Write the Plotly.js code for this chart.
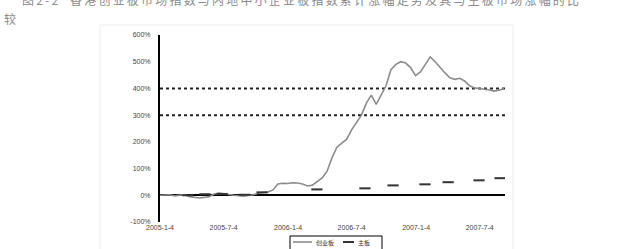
<!DOCTYPE html>
<html>
<head>
<meta charset="utf-8">
<script src="https://cdn.plot.ly/plotly-3.0.1.min.js"></script>
<style>
  html,body{margin:0;padding:0;background:#fff;}
  #wrap{position:relative;width:629px;height:249px;overflow:hidden;}
  #chart{position:absolute;left:0;top:0;width:629px;height:249px;}
  .cap{position:absolute;font-family:"Noto Sans CJK SC",sans-serif;color:#8a8a8a;font-size:12px;white-space:nowrap;line-height:12px;}
</style>
</head>
<body>
<div id="wrap">
  <div id="chart"></div>
  <div class="cap" style="left:22px;top:-6px;letter-spacing:2.2px;">图2-2&nbsp;&nbsp;香港创业板市场指数与内地中小企业板指数累计涨幅走势及其与主板市场涨幅的比</div>
  <div class="cap" style="left:4px;top:13px;">较</div>
</div>
<script>
// ---- data ----
const dates = [
  "2005-01-04","2005-01-18","2005-02-01","2005-02-15","2005-03-01","2005-03-15","2005-03-29","2005-04-12","2005-04-26","2005-05-10",
  "2005-05-24","2005-06-07","2005-06-21","2005-07-05","2005-07-19","2005-08-02","2005-08-16","2005-08-30","2005-09-13","2005-09-27",
  "2005-10-11","2005-10-25","2005-11-08","2005-11-22","2005-12-06","2005-12-20","2006-01-03","2006-01-17","2006-01-31","2006-02-14",
  "2006-02-28","2006-03-14","2006-03-28","2006-04-11","2006-04-25","2006-05-09","2006-05-23","2006-06-06","2006-06-20","2006-07-04",
  "2006-07-18","2006-08-01","2006-08-15","2006-08-29","2006-09-12","2006-09-26","2006-10-10","2006-10-24","2006-11-07","2006-11-21",
  "2006-12-05","2006-12-19","2007-01-02","2007-01-16","2007-01-30","2007-02-13","2007-02-27","2007-03-13","2007-03-27","2007-04-10",
  "2007-04-24","2007-05-08","2007-05-22","2007-06-05","2007-06-19","2007-07-03","2007-07-17","2007-07-31","2007-08-14","2007-08-28",
  "2007-09-11"
];
const seriesA = [
  0, 0, 2, -2, 0, 3, -5, -8, -10, -8,
  -5, 5, 8, 6, 2, 0, -2, -3, -1, 2,
  8, 10, 12, 20, 42, 45, 44, 47, 46, 42,
  35, 38, 50, 65, 90, 140, 180, 195, 210, 245,
  275, 300, 345, 375, 340, 375, 410, 470, 490, 500,
  495, 478, 448, 462, 490, 518, 500, 478, 458, 440,
  434, 438, 428, 410, 402, 400, 398, 394, 390, 393,
  400
];
const datesB = ["2005-03-25","2005-05-12","2005-06-30","2005-09-03","2005-10-22","2006-03-27","2006-08-11","2006-10-30","2007-01-29","2007-04-05","2007-07-02","2007-08-31"];
const seriesB = [0, 4, 5, 2, 11, 22, 26, 37, 41, 49, 56, 64];
const refLevels = [400, 300];
const refDates = ["2005-01-04", "2007-09-14"];
const yTickVals = [-100, 0, 100, 200, 300, 400, 500, 600];
const yTickText = ["-100%", "0%", "100%", "200%", "300%", "400%", "500%", "600%"];
const xTickVals = ["2005-01-04","2005-07-04","2006-01-04","2006-07-04","2007-01-04","2007-07-04"];
const xTickText = ["2005-1-4","2005-7-4","2006-1-4","2006-7-4","2007-1-4","2007-7-4"];
const nameA = "创业板";
const nameB = "主板";

// ---- traces ----
const traces = [];
refLevels.forEach(v => {
  traces.push({
    x: refDates, y: [v, v], mode: "lines", showlegend: false, hoverinfo: "skip",
    line: {color: "#222", width: 2, dash: "dot"}
  });
});
traces.push({
  x: dates, y: seriesA, mode: "lines", name: nameA,
  line: {color: "#8c8c8c", width: 1.6}
});
traces.push({
  x: datesB, y: seriesB, mode: "markers", name: nameB,
  marker: {symbol: "line-ew", size: 8, line: {color: "#333", width: 2}}
});

// compact hand-made legend (paper coordinates of the plot: x 160..505 px, y 35..222 px)
const px = p => (p - 160) / 345;
const py = p => (222 - p) / 187;
const legY = 242;

const layout = {
  width: 629, height: 249,
  margin: {l: 160, r: 124, t: 35, b: 27, pad: 0, autoexpand: false},
  paper_bgcolor: "rgba(0,0,0,0)", plot_bgcolor: "rgba(0,0,0,0)",
  font: {family: "Liberation Sans, Arial, sans-serif", size: 7, color: "#444"},
  xaxis: {
    type: "date", range: ["2005-01-04", "2007-09-14"],
    tickmode: "array", tickvals: xTickVals, ticktext: xTickText,
    showgrid: false, zeroline: false, showline: false, ticks: "",
    tickfont: {size: 7, color: "#444"}, automargin: false
  },
  yaxis: {
    range: [-100, 600], tickmode: "array", tickvals: yTickVals, ticktext: yTickText,
    showgrid: false, showline: true, linecolor: "#000", linewidth: 2,
    zeroline: true, zerolinecolor: "#000", zerolinewidth: 2,
    ticks: "", ticklabelstandoff: 6, automargin: false,
    tickfont: {size: 7, color: "#444"}
  },
  showlegend: false,
  shapes: [
    {type: "rect", xref: "paper", yref: "paper", x0: -0.174, x1: 1.023, y0: -0.3, y1: 1.053,
     line: {color: "#ededed", width: 1}, layer: "below"},
    {type: "rect", xref: "paper", yref: "paper", x0: px(290), x1: px(382), y0: py(256), y1: py(236),
     line: {color: "#000", width: 1}, fillcolor: "#fff", layer: "above"},
    {type: "line", xref: "paper", yref: "paper", x0: px(293), x1: px(312), y0: py(legY), y1: py(legY),
     line: {color: "#8c8c8c", width: 1.6}},
    {type: "line", xref: "paper", yref: "paper", x0: px(343), x1: px(354), y0: py(legY), y1: py(legY),
     line: {color: "#333", width: 2}}
  ],
  annotations: [
    {xref: "paper", yref: "paper", x: px(314), y: py(legY), xanchor: "left", yanchor: "middle",
     text: nameA, showarrow: false, font: {size: 6, color: "#333", family: "Noto Sans CJK SC, sans-serif"}},
    {xref: "paper", yref: "paper", x: px(356), y: py(legY), xanchor: "left", yanchor: "middle",
     text: nameB, showarrow: false, font: {size: 6, color: "#333", family: "Noto Sans CJK SC, sans-serif"}}
  ]
};
Plotly.newPlot("chart", traces, layout, {displayModeBar: false, staticPlot: true});
</script>
</body>
</html>
